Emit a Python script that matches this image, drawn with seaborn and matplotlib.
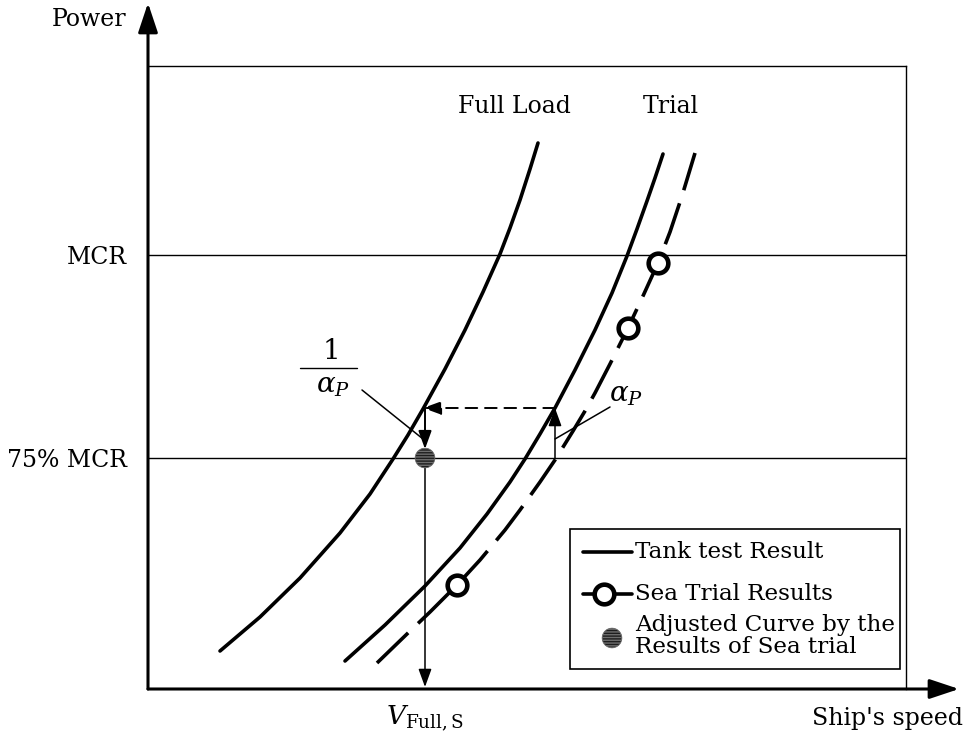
import matplotlib
matplotlib.use("Agg")
import matplotlib.pyplot as plt
import seaborn as sns
from matplotlib.patches import Rectangle

# Speed (x) / power (y) in plot units
full_load_speed = [72, 112, 152, 192, 222, 245, 260, 275, 297, 317, 335, 352,
                   362, 372, 382, 390]
full_load_power = [38, 72, 111, 156, 195, 230, 254, 280, 320, 359, 397, 435,
                   461, 489, 520, 546]

trial_speed = [197, 237, 277, 312, 339, 362, 377, 392, 407, 427, 447, 464,
               479, 489, 499, 507, 515]
trial_power = [28, 64, 103, 141, 175, 207, 230, 255, 281, 319, 359, 396,
               433, 460, 488, 511, 535]

adjusted_speed = [229, 260, 282, 309, 332, 357, 372, 392, 407, 425, 437, 447,
                  462, 480, 495, 510, 522, 534, 547]
adjusted_power = [26, 56, 77, 104, 129, 159, 179, 207, 229, 258, 278, 296,
                  325, 361, 393, 426, 457, 493, 536]

sea_trial_speed = [309, 480, 510]
sea_trial_power = [104, 361, 426]

corrected_speed = [277]
corrected_power = [231]

power_levels = [434, 231]
power_labels = ["MCR", "75% MCR"]
speed_ticks = [277]
speed_labels = [r"$V_{\mathrm{Full,S}}$"]

sns.set_theme(style="white")
plt.rcParams["font.family"] = ["DejaVu Serif"]
plt.rcParams["mathtext.fontset"] = "dejavuserif"
for key in ["text.color", "axes.labelcolor", "xtick.color", "ytick.color"]:
    plt.rcParams[key] = "black"

fig = plt.figure(figsize=(9.68, 7.44), dpi=100)
ax = fig.add_axes([148 / 968, 55 / 744, 758 / 968, 623 / 744])
ax.set_xlim(0, 758)
ax.set_ylim(0, 623)

FS = 17
LFS = 16.6
LW = 2.6
OPEN_S, OPEN_LW = 200, 3.3

# Reference power levels
for p in power_levels:
    ax.axhline(p, color="black", lw=1.0, zorder=1)

# Tank test curves
for xs, ys in [(full_load_speed, full_load_power), (trial_speed, trial_power)]:
    sns.lineplot(x=xs, y=ys, sort=False, estimator=None, color="black",
                 lw=LW, ax=ax, zorder=3)

# Adjusted curve through the sea trial results
sns.lineplot(x=adjusted_speed, y=adjusted_power, sort=False, estimator=None,
             color="black", lw=LW, ax=ax, zorder=3)
ax.lines[-1].set_linestyle((0, (12, 3.8)))

sns.scatterplot(x=sea_trial_speed, y=sea_trial_power, marker="o", s=OPEN_S,
                facecolor="white", edgecolor="black", linewidth=OPEN_LW, ax=ax,
                zorder=5)
sns.scatterplot(x=corrected_speed, y=corrected_power, marker="o", s=200,
                color="#1e1e1e", edgecolor="#6e6e6e", hatch="------",
                linewidth=0.6, ax=ax, zorder=5)

# Correction arrows
arrow_kw = dict(arrowstyle="-|>,head_length=0.55,head_width=0.2",
                mutation_scale=20, color="black", shrinkA=0, shrinkB=0)
i = 8  # corrected level on the trial curve
y_h = trial_power[i]
x_a = trial_speed[i]
x_c = corrected_speed[0]
ax.annotate("", xy=(x_a, y_h), xytext=(x_a, power_levels[1]),
            arrowprops=dict(lw=1.1, **arrow_kw), zorder=4)
ax.annotate("", xy=(x_c - 2, y_h), xytext=(x_a, y_h),
            arrowprops=dict(lw=1.4, linestyle=(0, (6, 4)), **arrow_kw), zorder=4)
ax.annotate("", xy=(x_c, corrected_power[0] + 9), xytext=(x_c, y_h),
            arrowprops=dict(lw=1.4, **arrow_kw), zorder=4)
ax.annotate("", xy=(x_c, 2), xytext=(x_c, corrected_power[0] - 9),
            arrowprops=dict(lw=1.1, **arrow_kw), zorder=4)

# Labels with leader lines
ax.text(182, 337, r"$1$", fontsize=FS + 3, ha="center", va="center")
ax.plot([152, 209], [321, 321], color="black", lw=1.0, clip_on=False)
ax.text(185, 303, r"$\alpha_P$", fontsize=FS + 3, ha="center", va="center")
ax.plot([214, 275], [299, 250], color="black", lw=1.1)
ax.text(478, 294, r"$\alpha_P$", fontsize=FS + 3, ha="center", va="center")
ax.plot([462, 407], [282, 250], color="black", lw=1.1)

ax.text(366, 582, "Full Load", fontsize=FS, ha="center", va="center")
ax.text(523, 582, "Trial", fontsize=FS, ha="center", va="center")

# Axes: thin frame top/right, arrows for power and speed
for side in ["top", "right"]:
    ax.spines[side].set_linewidth(1.0)
    ax.spines[side].set_color("black")
for side in ["left", "bottom"]:
    ax.spines[side].set_visible(False)
axis_kw = dict(arrowstyle="-|>,head_length=0.9,head_width=0.3",
               mutation_scale=20, color="black", lw=2.2, shrinkA=0, shrinkB=0)
ax.annotate("", xy=(0, 686), xytext=(0, 0), arrowprops=axis_kw,
            annotation_clip=False)
ax.annotate("", xy=(811, 0), xytext=(0, 0), arrowprops=axis_kw,
            annotation_clip=False)

ax.set_yticks(power_levels)
ax.set_yticklabels(power_labels, fontsize=FS)
ax.set_xticks(speed_ticks)
ax.set_xticklabels(speed_labels, fontsize=FS + 2)
ax.tick_params(axis="y", length=0, pad=15)
ax.tick_params(axis="x", length=0, pad=10)
ax.set_xlabel("")
ax.set_ylabel("")

ax.text(-59, 669, "Power", fontsize=FS, ha="center", va="center", clip_on=False)
ax.text(740, -29, "Ship's speed", fontsize=FS, ha="center", va="center",
        clip_on=False)

# Legend box
ax.add_patch(Rectangle((422, 20), 330, 140, facecolor="white",
                       edgecolor="black", lw=1.2, zorder=6))
ax.plot([435, 484], [137, 137], color="black", lw=LW, zorder=7)
ax.text(487, 137, "Tank test Result", fontsize=LFS, va="center", zorder=7)
ax.plot([435, 484], [95, 95], color="black", lw=LW, zorder=7)
ax.scatter([456], [95], marker="o", s=OPEN_S, facecolor="white",
           edgecolor="black", linewidth=OPEN_LW, zorder=8)
ax.text(487, 95, "Sea Trial Results", fontsize=LFS, va="center", zorder=7)
ax.scatter([464], [51], marker="o", s=200, color="#1e1e1e",
           edgecolor="#6e6e6e", hatch="------", linewidth=0.6, zorder=8)
ax.text(487, 53, "Adjusted Curve by the\nResults of Sea trial", fontsize=LFS,
        va="center", linespacing=0.95, zorder=7)

fig.savefig("out.png", dpi=100)
